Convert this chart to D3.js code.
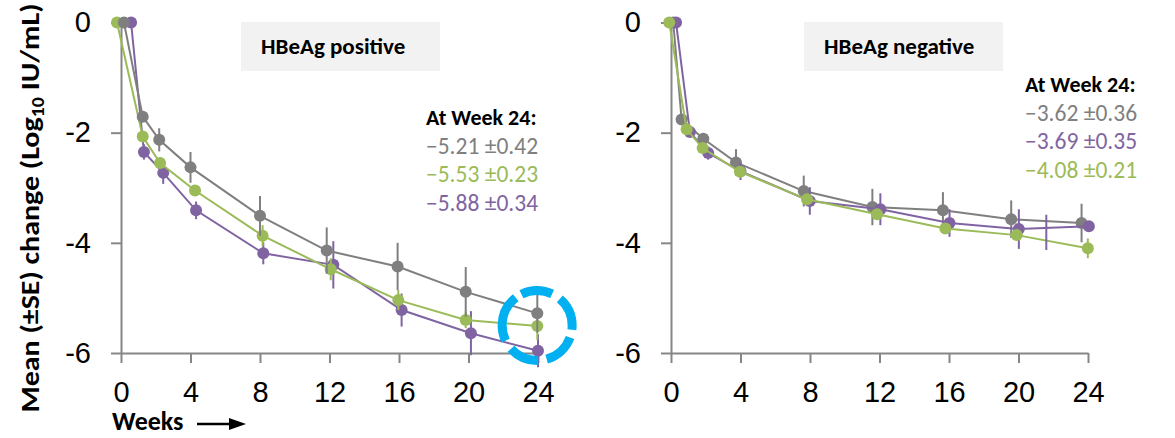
<!DOCTYPE html>
<html>
<head>
<meta charset="utf-8">
<script src="https://cdn.jsdelivr.net/npm/d3@7"></script>
<style>
  body { margin: 0; background: #fff; }
  svg { display: block; font-family: Calibri, Carlito, Lato, sans-serif; }
</style>
</head>
<body>
<div id="chart"></div>
<script>
const weekTicks = [0, 4, 8, 12, 16, 20, 24]
const valueTicks = [0, -2, -4, -6]

// HBeAg positive: plotted week (series are nudged sideways), mean change, SE
const posGreyWeeks = [0.17, 1.25, 2.2, 4.0, 8.0, 11.84, 15.92, 19.84, 23.96]
const posGreyMeans = [0, -1.71, -2.13, -2.63, -3.51, -4.14, -4.43, -4.89, -5.28]
const posGreySE = [0, 0.05, 0.21, 0.28, 0.36, 0.42, 0.43, 0.45, 0.35]

const posGreenWeeks = [-0.23, 1.25, 2.25, 4.26, 8.15, 12.07, 15.96, 19.84, 23.96]
const posGreenMeans = [0, -2.07, -2.55, -3.05, -3.87, -4.48, -5.04, -5.40, -5.51]
const posGreenSE = [0, 0.08, 0.1, 0.1, 0.19, 0.2, 0.18, 0.15, 0.25]

const posPurpleWeeks = [0.58, 1.32, 2.43, 4.32, 8.19, 12.22, 16.15, 20.14, 24.0]
const posPurpleMeans = [0, -2.35, -2.73, -3.41, -4.19, -4.40, -5.22, -5.64, -5.96]
const posPurpleSE = [0, 0.14, 0.2, 0.16, 0.2, 0.43, 0.3, 0.4, 0.3]

// HBeAg negative
const negGreyWeeks = [0.13, 0.61, 1.86, 3.74, 7.64, 11.59, 15.65, 19.58, 23.63]
const negGreyMeans = [0, -1.76, -2.11, -2.54, -3.06, -3.35, -3.41, -3.57, -3.64]
const negGreySE = [0, 0.05, 0.08, 0.24, 0.28, 0.33, 0.33, 0.34, 0.35]

const negPurpleWeeks = [0.29, 1.09, 2.14, 4.0, 7.99, 12.05, 16.03, 20.02, 24.05]
const negPurpleMeans = [0, -1.99, -2.37, -2.70, -3.24, -3.39, -3.64, -3.75, -3.70]
const negPurpleSE = [0, 0.08, 0.12, 0.16, 0.25, 0.29, 0.25, 0.36, 0]

const negGreenWeeks = [-0.1, 0.9, 1.82, 3.97, 7.83, 11.86, 15.79, 19.90, 23.99]
const negGreenMeans = [0, -1.94, -2.28, -2.71, -3.21, -3.48, -3.74, -3.86, -4.10]
const negGreenSE = [0, 0.05, 0.06, 0.08, 0.1, 0.1, 0.08, 0.08, 0.18]

// the purple week-24 error bar sits off to the left of its point in the original
const negPurpleStrayBar = { week: 21.6, mean: -3.81, se: 0.32 }

const posNotes = ['\u22125.21 \u00b10.42', '\u22125.53 \u00b10.23', '\u22125.88 \u00b10.34']
const negNotes = ['\u22123.62 \u00b10.36', '\u22123.69 \u00b10.35', '\u22124.08 \u00b10.21']

// dashed ring around the week-24 values (angles in degrees, clockwise from 3 o'clock)
const ringCentre = { week: 23.95, mean: -5.5 }
const ringDashDeg = [7, 13, 54, 14, 50, 16, 78, 11, 52, 15, 50]

const GREY = '#7F7F7F'
const GREEN = '#9BBB59'
const PURPLE = '#8064A2'
const AXIS = '#868686'

function makeSeries(color, weeks, means, ses) {
  return { color, points: weeks.map((w, i) => ({ week: w, mean: means[i], se: ses[i] })) }
}

const panels = [
  {
    left: 121, boxX: 241, title: 'HBeAg positive',
    series: [
      makeSeries(PURPLE, posPurpleWeeks, posPurpleMeans, posPurpleSE),
      makeSeries(GREEN, posGreenWeeks, posGreenMeans, posGreenSE),
      makeSeries(GREY, posGreyWeeks, posGreyMeans, posGreySE)
    ],
    notes: posNotes, noteColors: [GREY, GREEN, PURPLE], noteX: 426, noteY: 125
  },
  {
    left: 671, boxX: 804, title: 'HBeAg negative',
    series: [
      makeSeries(GREY, negGreyWeeks, negGreyMeans, negGreySE),
      makeSeries(PURPLE, negPurpleWeeks, negPurpleMeans, negPurpleSE),
      makeSeries(GREEN, negGreenWeeks, negGreenMeans, negGreenSE)
    ],
    notes: negNotes, noteColors: [GREY, PURPLE, GREEN], noteX: 1025, noteY: 92
  }
]

const W = 1175, H = 438
const plotW = 417, plotTop = 22.5, plotBottom = 353

const svg = d3.select('#chart').append('svg')
  .attr('width', W)
  .attr('height', H)

panels.forEach((p, pi) => {
  const x = d3.scaleLinear().domain([0, 24]).range([p.left, p.left + plotW])
  const y = d3.scaleLinear().domain([0, -6]).range([plotTop, plotBottom])
  const g = svg.append('g')

  // title box
  g.append('rect')
    .attr('x', p.boxX).attr('y', 22)
    .attr('width', 199).attr('height', 49)
    .attr('fill', '#F2F2F2')
  g.append('text')
    .attr('x', p.boxX + 20).attr('y', 54)
    .attr('font-size', 23).attr('font-weight', 'bold')
    .text(p.title)

  // axes
  const yAxis = g.append('g')
    .attr('transform', `translate(${x(0)},0)`)
    .call(d3.axisLeft(y).tickValues(valueTicks).tickSize(10).tickSizeOuter(0).tickPadding(20))
  const xAxis = g.append('g')
    .attr('transform', `translate(0,${y(-6)})`)
    .call(d3.axisBottom(x).tickValues(weekTicks).tickSize(10).tickSizeOuter(0).tickPadding(18))
  ;[yAxis, xAxis].forEach(a => {
    a.selectAll('path, line').attr('stroke', AXIS).attr('stroke-width', 2)
    a.selectAll('text').attr('fill', '#000').style('font-family', 'inherit')
  })
  yAxis.selectAll('text').attr('font-size', 29).text(d => d === 0 ? '0' : '-' + Math.abs(d))
  xAxis.selectAll('text').attr('font-size', 29)

  // series
  const line = d3.line().x(d => x(d.week)).y(d => y(d.mean))
  p.series.forEach(s => {
    const sg = g.append('g')
    sg.append('path')
      .attr('d', line(s.points))
      .attr('fill', 'none')
      .attr('stroke', s.color)
      .attr('stroke-width', 2)
    sg.selectAll('line.err')
      .data(s.points.filter(d => d.se > 0))
      .join('line')
      .attr('class', 'err')
      .attr('x1', d => x(d.week)).attr('x2', d => x(d.week))
      .attr('y1', d => y(d.mean + d.se)).attr('y2', d => y(d.mean - d.se))
      .attr('stroke', s.color)
      .attr('stroke-width', 2)
    sg.selectAll('circle')
      .data(s.points)
      .join('circle')
      .attr('cx', d => x(d.week))
      .attr('cy', d => y(d.mean))
      .attr('r', 6)
      .attr('fill', s.color)
  })

  if (pi === 1) {
    const b = negPurpleStrayBar
    g.append('line')
      .attr('x1', x(b.week)).attr('x2', x(b.week))
      .attr('y1', y(b.mean + b.se)).attr('y2', y(b.mean - b.se))
      .attr('stroke', PURPLE)
      .attr('stroke-width', 2)
  }

  // week 24 summary
  const notes = g.append('g')
  notes.append('text')
    .attr('x', p.noteX).attr('y', p.noteY)
    .attr('font-size', 22)
    .attr('font-weight', 'bold')
    .text('At Week 24:')
  notes.selectAll('text.val')
    .data(p.notes)
    .join('text')
    .attr('class', 'val')
    .attr('x', p.noteX)
    .attr('y', (d, i) => p.noteY + 28.7 * (i + 1))
    .attr('font-size', 23.5)
    .attr('fill', (d, i) => p.noteColors[i])
    .text(d => d)

  if (pi === 0) {
    const r = 35
    const per = 2 * Math.PI * r / 360
    g.append('circle')
      .attr('cx', x(ringCentre.week))
      .attr('cy', y(ringCentre.mean))
      .attr('r', r)
      .attr('fill', 'none')
      .attr('stroke', '#00B0F0')
      .attr('stroke-width', 9)
      .attr('stroke-dasharray', ringDashDeg.map(d => d * per).join(' '))
  }
})

// y axis title (the original is a little stretched along its length)
const yTitle = svg.append('text')
  .attr('transform', 'translate(39,208) rotate(-90) scale(1.11,1)')
  .attr('text-anchor', 'middle')
  .attr('font-size', 27)
  .attr('font-weight', 'bold')
yTitle.append('tspan').text('Mean (\u00b1SE) change (Log')
yTitle.append('tspan').attr('font-size', 18).attr('dy', 5).text('10')
yTitle.append('tspan').attr('dy', -5).text(' IU/mL)')

// "Weeks →"
svg.append('text')
  .attr('x', 112).attr('y', 430)
  .attr('font-size', 26)
  .attr('font-weight', 'bold')
  .text('Weeks')
svg.append('line')
  .attr('x1', 197).attr('x2', 232)
  .attr('y1', 424).attr('y2', 424)
  .attr('stroke', '#000')
  .attr('stroke-width', 2.5)
svg.append('path')
  .attr('d', 'M229,418L246,424L229,430Z')
  .attr('fill', '#000')
</script>
</body>
</html>
